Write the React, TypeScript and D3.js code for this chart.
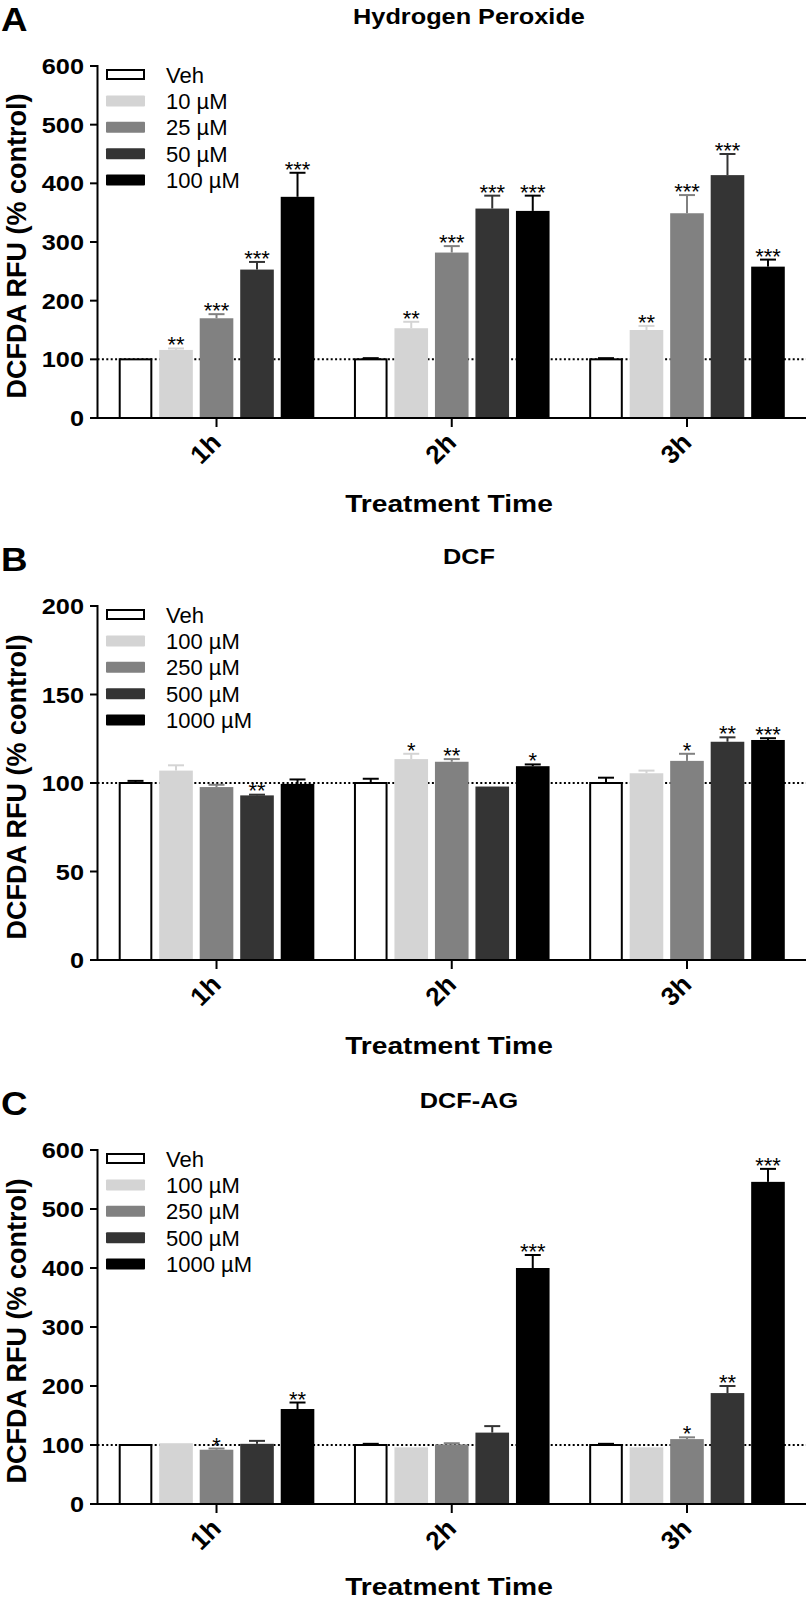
import React from "react";
import * as d3 from "d3";

const groups = ["1h", "2h", "3h"];
const seriesA = ["Veh", "10 µM", "25 µM", "50 µM", "100 µM"];
const seriesBC = ["Veh", "100 µM", "250 µM", "500 µM", "1000 µM"];
const seriesColors = ["#ffffff", "#d4d4d4", "#818181", "#343434", "#000000"];
const errColors = ["#000000", "#d4d4d4", "#818181", "#343434", "#000000"];

// Panel A: Hydrogen Peroxide (rows = time groups, cols = series)
const h2o2Means = [
  [100, 116, 170, 253, 377],
  [100, 153, 282, 357, 353],
  [100, 150, 349, 414, 258],
];
const h2o2Errors = [
  [1, 2.5, 7, 13, 41],
  [2, 11, 11, 22, 26],
  [2, 7, 31, 36, 12],
];
const h2o2Stars = [
  ["", "**", "***", "***", "***"],
  ["", "**", "***", "***", "***"],
  ["", "**", "***", "***", "***"],
];
const h2o2Ticks = [0, 100, 200, 300, 400, 500, 600];

// Panel B: DCF
const dcfMeans = [
  [100, 107, 97.7, 93, 99.5],
  [100, 113.5, 112, 98, 109.5],
  [100, 105.5, 112.5, 123.3, 124.3],
];
const dcfErrors = [
  [1.2, 3, 1.3, 0.4, 2.5],
  [2.4, 3, 1.5, 0.3, 1],
  [3, 1.5, 4, 2.5, 1],
];
const dcfStars = [
  ["", "", "", "**", ""],
  ["", "*", "**", "", "*"],
  ["", "", "*", "**", "***"],
];
const dcfTicks = [0, 50, 100, 150, 200];

// Panel C: DCF-AG
const dcfagMeans = [
  [100, 103, 92, 102, 161],
  [100, 96, 101, 121, 400],
  [100, 96, 110, 188, 546],
];
const dcfagErrors = [
  [0.5, 0.4, 2, 5, 11],
  [2, 0.4, 2, 11, 22],
  [2, 0.4, 3, 12, 22],
];
const dcfagStars = [
  ["", "", "*", "", "**"],
  ["", "", "", "", "***"],
  ["", "", "*", "**", "***"],
];
const dcfagTicks = [0, 100, 200, 300, 400, 500, 600];

const FONT = '"Liberation Sans", Arial, Helvetica, sans-serif';
const SX = 1.15;

type PanelProps = {
  letter: string;
  title: string;
  series: string[];
  means: number[][];
  errors: number[][];
  stars: string[][];
  ticks: number[];
  top: number;
  bottom: number;
};

function Panel({ letter, title, series, means, errors, stars, ticks, top, bottom }: PanelProps) {
  const axisX = 97.5;
  const xEnd = 806;
  const x0 = d3.scaleBand<string>().domain(groups).range([98.9, 804.6]).paddingInner(0).paddingOuter(0);
  const half = x0.bandwidth() / 2;
  const x1 = d3
    .scaleBand<string>()
    .domain(series)
    .range([-101.25, 101.25])
    .paddingInner(0.17)
    .paddingOuter(0.085);
  const yMax = ticks[ticks.length - 1];
  const y = d3.scaleLinear().domain([0, yMax]).range([bottom, top]);
  const bw = x1.bandwidth();

  return (
    <g>
      <text
        transform={`translate(1,${top - 35}) scale(1.08,1)`}
        fontFamily={FONT}
        fontWeight="bold"
        fontSize={34}
      >
        {letter}
      </text>
      <text
        transform={`translate(469,${top - 42}) scale(${SX},1)`}
        textAnchor="middle"
        fontFamily={FONT}
        fontWeight="bold"
        fontSize={22}
      >
        {title}
      </text>

      {/* reference line at 100 */}
      <line
        x1={axisX}
        x2={xEnd}
        y1={y(100)}
        y2={y(100)}
        stroke="#000"
        strokeWidth={2}
        strokeDasharray="2,2.4"
      />

      {/* bars */}
      {groups.map((g, gi) =>
        series.map((s, si) => {
          const cx = x0(g)! + half;
          const bx = cx + x1(s)!;
          const v = means[gi][si];
          const yt = y(v);
          if (si === 0) {
            return (
              <rect
                key={g + s}
                x={bx + 1}
                y={yt}
                width={bw - 2}
                height={bottom - yt}
                fill="#fff"
                stroke="#000"
                strokeWidth={2}
              />
            );
          }
          return <rect key={g + s} x={bx} y={yt} width={bw} height={bottom - yt} fill={seriesColors[si]} />;
        })
      )}

      {/* error bars and stars */}
      {groups.map((g, gi) =>
        series.map((s, si) => {
          const cx = x0(g)! + half + x1(s)! + bw / 2;
          const v = means[gi][si];
          const e = errors[gi][si];
          const yt = y(v);
          const ye = y(v + e);
          const st = stars[gi][si];
          return (
            <g key={"e" + g + s}>
              {yt - ye > 0.6 && (
                <>
                  <line x1={cx} x2={cx} y1={yt} y2={ye} stroke={errColors[si]} strokeWidth={2} />
                  <line x1={cx - 8} x2={cx + 8} y1={ye} y2={ye} stroke={errColors[si]} strokeWidth={2} />
                </>
              )}
              {st && (
                <text
                  x={cx}
                  y={Math.min(ye, yt - 1) + 4}
                  textAnchor="middle"
                  fontFamily={FONT}
                  fontSize={22}
                  fill="#000"
                >
                  {st}
                </text>
              )}
            </g>
          );
        })
      )}

      {/* y axis */}
      <line x1={axisX} x2={axisX} y1={top - 1} y2={bottom + 1} stroke="#000" strokeWidth={2} />
      {ticks.map((t) => (
        <g key={"t" + t}>
          <line x1={90} x2={axisX} y1={y(t)} y2={y(t)} stroke="#000" strokeWidth={2} />
          <text
            transform={`translate(84,${y(t) + 8}) scale(${SX},1)`}
            textAnchor="end"
            fontFamily={FONT}
            fontWeight="bold"
            fontSize={22}
          >
            {t}
          </text>
        </g>
      ))}
      <text
        transform={`translate(25.5,${(top + bottom) / 2 + 4}) rotate(-90)`}
        textAnchor="middle"
        fontFamily={FONT}
        fontWeight="bold"
        fontSize={27}
      >
        DCFDA RFU (% control)
      </text>

      {/* x axis */}
      <line x1={90} x2={xEnd} y1={bottom} y2={bottom} stroke="#000" strokeWidth={2} />
      {groups.map((g) => {
        const cx = x0(g)! + half;
        return (
          <g key={"x" + g}>
            <line x1={cx} x2={cx} y1={bottom} y2={bottom + 9} stroke="#000" strokeWidth={2} />
            <text
              transform={`translate(${cx + 6},${bottom + 26}) rotate(-45)`}
              textAnchor="end"
              fontFamily={FONT}
              fontWeight="bold"
              fontSize={26}
            >
              {g}
            </text>
          </g>
        );
      })}
      <text
        transform={`translate(449,${Math.min(bottom + 94, 1595)}) scale(${SX},1)`}
        textAnchor="middle"
        fontFamily={FONT}
        fontWeight="bold"
        fontSize={24.5}
      >
        Treatment Time
      </text>

      {/* legend */}
      {series.map((s, si) => {
        const cy = top + 8.5 + si * 26.4;
        return (
          <g key={"l" + s}>
            {si === 0 ? (
              <rect x={107} y={cy - 4.5} width={37} height={9} fill="#fff" stroke="#000" strokeWidth={2} />
            ) : (
              <rect x={106} y={cy - 5.5} width={39} height={11} rx={1} fill={seriesColors[si]} />
            )}
            <text x={166} y={cy + 8} fontFamily={FONT} fontSize={22} fill="#000">
              {s}
            </text>
          </g>
        );
      })}
    </g>
  );
}

export default function App() {
  return (
    <svg
      width={809}
      height={1602}
      viewBox="0 0 809 1602"
      style={{ position: "absolute", left: 0, top: 0, background: "#fff" }}
    >
      <rect width={809} height={1602} fill="#fff" />
      <Panel
        letter="A"
        title="Hydrogen Peroxide"
        series={seriesA}
        means={h2o2Means}
        errors={h2o2Errors}
        stars={h2o2Stars}
        ticks={h2o2Ticks}
        top={66}
        bottom={418}
      />
      <Panel
        letter="B"
        title="DCF"
        series={seriesBC}
        means={dcfMeans}
        errors={dcfErrors}
        stars={dcfStars}
        ticks={dcfTicks}
        top={606}
        bottom={960}
      />
      <Panel
        letter="C"
        title="DCF-AG"
        series={seriesBC}
        means={dcfagMeans}
        errors={dcfagErrors}
        stars={dcfagStars}
        ticks={dcfagTicks}
        top={1150}
        bottom={1504}
      />
    </svg>
  );
}
